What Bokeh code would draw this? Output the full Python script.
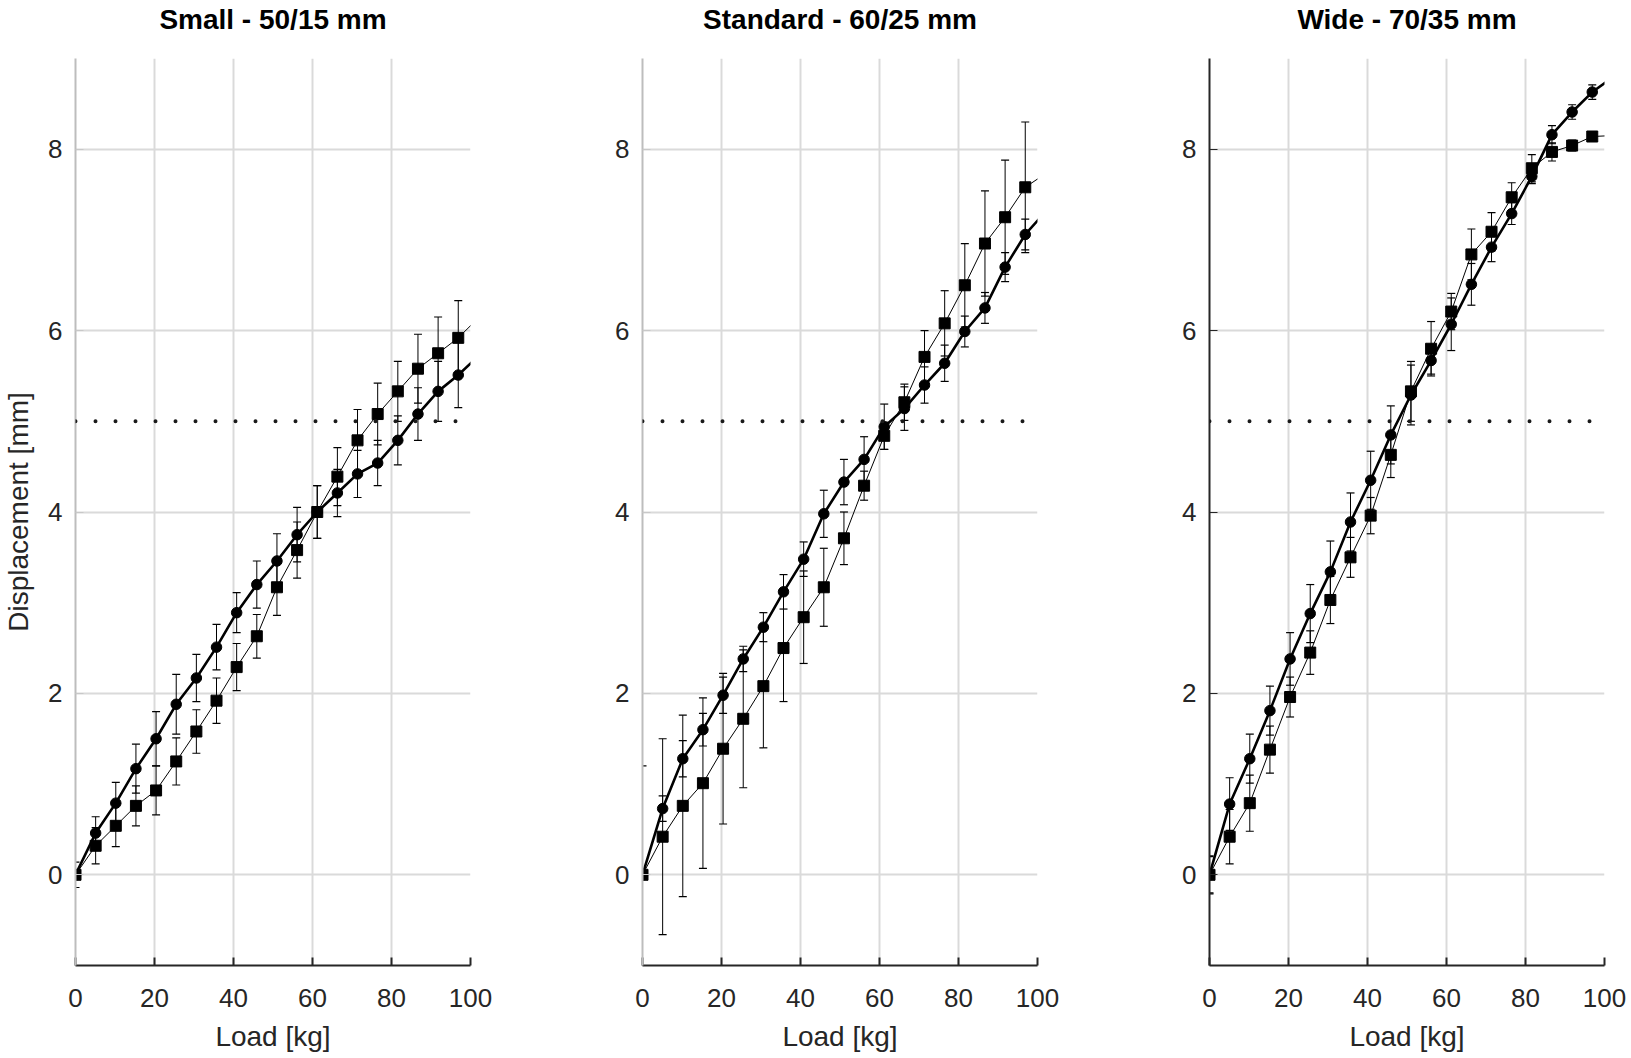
import numpy as np
from bokeh.plotting import figure
from bokeh.layouts import row
from bokeh.models import Range1d, FixedTicker, Span, LinearAxis
from bokeh.embed import file_html
from bokeh.resources import INLINE

# load steps [kg] (last one lies just past the axis end, the lines run off the edge)
load = [0, 5.1, 10.2, 15.3, 20.4, 25.5, 30.6, 35.7, 40.8, 45.9, 51.0,
        56.1, 61.2, 66.3, 71.4, 76.5, 81.6, 86.7, 91.8, 96.9, 102.0]

titles = ["Small - 50/15 mm", "Standard - 60/25 mm", "Wide - 70/35 mm"]
x_ticks = [0, 20, 40, 60, 80, 100]
y_ticks = [0, 2, 4, 6, 8]
limit_mm = 5.0

# Small
small_circ = [0, 0.46, 0.79, 1.17, 1.50, 1.88, 2.17, 2.51, 2.89, 3.20, 3.46,
              3.75, 4.00, 4.21, 4.42, 4.54, 4.79, 5.08, 5.33, 5.51, 5.72]
small_circ_err = [0, 0.18, 0.23, 0.27, 0.30, 0.33, 0.26, 0.25, 0.22, 0.26, 0.30,
                  0.30, 0.29, 0.26, 0.26, 0.25, 0.27, 0.29, 0.33, 0.36, 0.36]
small_sq = [0, 0.32, 0.54, 0.76, 0.93, 1.25, 1.58, 1.92, 2.29, 2.63, 3.17,
            3.58, 4.00, 4.39, 4.79, 5.08, 5.33, 5.58, 5.75, 5.92, 6.14]
small_sq_err = [0.14, 0.20, 0.23, 0.22, 0.27, 0.26, 0.24, 0.25, 0.26, 0.24, 0.31,
                0.31, 0.29, 0.32, 0.34, 0.34, 0.33, 0.38, 0.40, 0.41, 0.41]

# Standard
std_circ = [0, 0.73, 1.28, 1.60, 1.98, 2.38, 2.73, 3.12, 3.48, 3.98, 4.33,
            4.58, 4.94, 5.14, 5.40, 5.64, 5.99, 6.25, 6.70, 7.06, 7.31]
std_circ_err = [0, 0.14, 0.20, 0.18, 0.20, 0.14, 0.16, 0.19, 0.19, 0.26, 0.25,
                0.25, 0.25, 0.24, 0.20, 0.20, 0.17, 0.17, 0.16, 0.17, 0.17]
std_sq = [0, 0.42, 0.76, 1.01, 1.39, 1.72, 2.08, 2.50, 2.84, 3.17, 3.71,
          4.29, 4.84, 5.21, 5.71, 6.08, 6.50, 6.96, 7.25, 7.58, 7.73]
std_sq_err = [1.20, 1.08, 1.00, 0.94, 0.83, 0.76, 0.68, 0.59, 0.51, 0.43, 0.29,
              0.16, 0.15, 0.20, 0.29, 0.36, 0.46, 0.58, 0.63, 0.72, 0.72]

# Wide
wide_circ = [0, 0.78, 1.28, 1.81, 2.38, 2.88, 3.34, 3.89, 4.35, 4.85, 5.29,
             5.67, 6.07, 6.51, 6.92, 7.29, 7.70, 8.16, 8.41, 8.63, 8.79]
wide_circ_err = [0.20, 0.29, 0.27, 0.27, 0.29, 0.32, 0.34, 0.32, 0.32, 0.32, 0.33,
                 0.15, 0.29, 0.23, 0.16, 0.12, 0.08, 0.10, 0.08, 0.08, 0.08]
wide_sq = [0, 0.42, 0.79, 1.38, 1.96, 2.45, 3.03, 3.50, 3.96, 4.63, 5.33,
           5.80, 6.21, 6.84, 7.09, 7.47, 7.79, 7.97, 8.04, 8.14, 8.15]
wide_sq_err = [0.21, 0.30, 0.31, 0.26, 0.22, 0.24, 0.26, 0.22, 0.20, 0.25, 0.33,
               0.30, 0.20, 0.28, 0.21, 0.16, 0.15, 0.10, 0.06, 0.05, 0.05]

panels = [
    (small_circ, small_circ_err, small_sq, small_sq_err),
    (std_circ, std_circ_err, std_sq, std_sq_err),
    (wide_circ, wide_circ_err, wide_sq, wide_sq_err),
]

FONT = "Liberation Sans"
TXT = "#262626"


def errbars(p, x, y, e):
    x = np.array(x)
    y = np.array(y)
    e = np.array(e)
    lo, hi = y - e, y + e
    p.segment(x0=x, y0=lo, x1=x, y1=hi, line_color="black", line_width=1)
    p.scatter(x, hi, marker="dash", size=8, line_color="black", line_width=1.2)
    p.scatter(x, lo, marker="dash", size=8, line_color="black", line_width=1.2)


def panel(i, circ, circ_err, sq, sq_err):
    right = 26 if i == 2 else 97
    p = figure(frame_width=395, frame_height=907, min_border_left=75,
               min_border_right=right, min_border_top=58, min_border_bottom=92,
               x_range=Range1d(0, 100), y_range=Range1d(-1, 9),
               output_backend="svg", toolbar_location=None, tools="")
    p.outline_line_color = None
    p.background_fill_color = "white"
    p.border_fill_color = "white"

    xax = p.below[0]
    yax = p.left[0]
    xax.ticker = FixedTicker(ticks=x_ticks)
    yax.ticker = FixedTicker(ticks=y_ticks)

    # bare axis on top carries the panel title
    top = LinearAxis(ticker=FixedTicker(ticks=[]), axis_line_color=None,
                     major_tick_line_color=None, minor_tick_line_color=None,
                     major_label_standoff=0, major_label_text_font_size="0px",
                     major_tick_in=0, major_tick_out=0)
    top.axis_label = titles[i]
    top.axis_label_text_font = FONT
    top.axis_label_text_font_size = "28px"
    top.axis_label_text_font_style = "bold"
    top.axis_label_text_color = "black"
    top.axis_label_standoff = 24
    p.add_layout(top, "above")

    p.xgrid.grid_line_color = "#dadada"
    p.ygrid.grid_line_color = "#dadada"
    p.xgrid.grid_line_width = 2
    p.ygrid.grid_line_width = 2

    for ax in (xax, yax):
        ax.major_label_text_font = FONT
        ax.major_label_text_font_size = "26px"
        ax.major_label_text_color = TXT
        ax.axis_label_text_font = FONT
        ax.axis_label_text_font_size = "28px"
        ax.axis_label_text_font_style = "normal"
        ax.axis_label_text_color = TXT
        ax.major_tick_in = 8
        ax.major_tick_out = 0
        ax.minor_tick_line_color = None
        ax.axis_line_width = 2

    xax.axis_line_color = TXT
    xax.major_tick_line_color = TXT
    xax.major_tick_line_width = 2
    xax.major_label_standoff = 23
    xax.axis_label = "Load [kg]"
    xax.axis_label_standoff = 11

    yax.major_label_standoff = 13
    if i == 2:
        yax.axis_line_color = TXT
        yax.major_tick_line_color = TXT
    else:
        yax.axis_line_color = "#bdbdbd"
        yax.major_tick_line_color = "#c8c8c8"
    if i == 0:
        yax.axis_label = "Displacement [mm]"
        yax.axis_label_standoff = 11

    p.add_layout(Span(location=limit_mm, dimension="width", line_color="#1a1a1a",
                      line_width=4, line_dash="0 20", line_cap="round"))

    errbars(p, load, sq, sq_err)
    errbars(p, load, circ, circ_err)
    p.line(load, sq, line_color="black", line_width=1)
    p.line(load, circ, line_color="black", line_width=2.6)
    p.scatter(load, sq, marker="square", size=11, fill_color="black", line_color="black")
    p.scatter(load, circ, marker="circle", size=10.5, fill_color="black", line_color="black")
    return p


figs = [panel(i, *d) for i, d in enumerate(panels)]
layout = row(*figs)

open("out.html", "w").write(file_html(layout, INLINE))
